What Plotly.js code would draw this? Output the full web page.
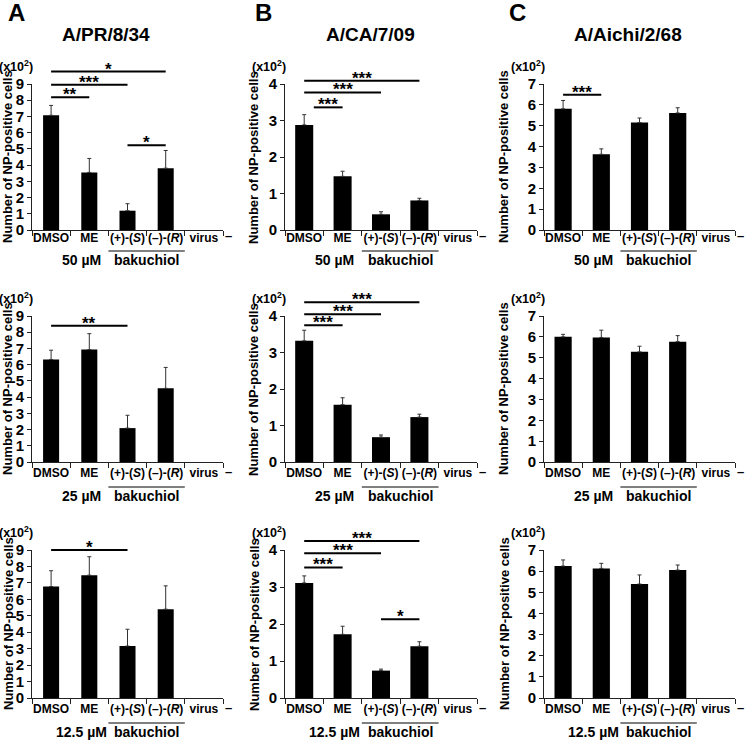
<!DOCTYPE html>
<html><head><meta charset="utf-8">
<script src="https://cdn.plot.ly/plotly-3.0.1.min.js"></script>
<style>html,body{margin:0;padding:0;background:#fff}</style>
</head><body><div id="chart" style="width:745px;height:740px"></div>
<script>
// ---------- data ----------
const categories = ['DMSO', 'ME', '(+)-(<i>S</i>)', '(–)-(<i>R</i>)', 'virus'];
const strains = ['A/PR/8/34', 'A/CA/7/09', 'A/Aichi/2/68'];
const panelLetters = ['A', 'B', 'C'];
const concentrations = ['50 µM', '25 µM', '12.5 µM'];
const yMaxByStrain = [9, 4, 7];
const groupLabel = 'bakuchiol';
const unitLabel = '(x10<sup>2</sup>)';
const yTitle = 'Number of NP-positive cells';

// A/PR/8/34
const pr50 = [7.07, 3.55, 1.19, 3.81, null];
const pr50Err = [0.61, 0.86, 0.43, 1.09, 0];
const pr25 = [6.32, 6.93, 2.09, 4.54, null];
const pr25Err = [0.57, 0.98, 0.79, 1.29, 0];
const pr12 = [6.78, 7.47, 3.16, 5.40, null];
const pr12Err = [0.96, 1.12, 1.02, 1.42, 0];
// A/CA/7/09
const ca50 = [2.88, 1.47, 0.43, 0.81, null];
const ca50Err = [0.28, 0.14, 0.07, 0.06, 0];
const ca25 = [3.32, 1.57, 0.68, 1.23, null];
const ca25Err = [0.29, 0.19, 0.06, 0.08, 0];
const ca12 = [3.11, 1.72, 0.74, 1.40, null];
const ca12Err = [0.19, 0.22, 0.04, 0.12, 0];
// A/Aichi/2/68
const ai50 = [5.81, 3.63, 5.15, 5.61, null];
const ai50Err = [0.40, 0.26, 0.22, 0.25, 0];
const ai25 = [6.00, 5.97, 5.28, 5.77, null];
const ai25Err = [0.12, 0.35, 0.27, 0.29, 0];
const ai12 = [6.24, 6.13, 5.39, 6.05, null];
const ai12Err = [0.29, 0.24, 0.43, 0.24, 0];

// significance brackets: [from category, to category, level, stars]
const pr50Sig = [[0, 3, 9.77, '*'], [0, 2, 8.95, '***'], [0, 1, 8.18, '**'], [2, 3, 5.23, '*']];
const pr25Sig = [[0, 2, 8.4, '**']];
const pr12Sig = [[0, 2, 9.0, '*']];
const ca50Sig = [[0, 3, 4.09, '***'], [0, 2, 3.77, '***'], [0.25, 1, 3.36, '***']];
const ca25Sig = [[0, 3, 4.38, '***'], [0, 2, 4.05, '***'], [0, 1, 3.75, '***']];
const ca12Sig = [[0, 3, 4.24, '***'], [0, 2, 3.91, '***'], [0, 1, 3.53, '***'], [2, 3, 2.13, '*']];
const ai50Sig = [[0, 1, 6.48, '***']];
const ai25Sig = [];
const ai12Sig = [];

// ---------- assembly ----------
const values = [[pr50, pr25, pr12], [ca50, ca25, ca12], [ai50, ai25, ai12]];
const errors = [[pr50Err, pr25Err, pr12Err], [ca50Err, ca25Err, ca12Err], [ai50Err, ai25Err, ai12Err]];
const sigs = [[pr50Sig, pr25Sig, pr12Sig], [ca50Sig, ca25Sig, ca12Sig], [ai50Sig, ai25Sig, ai12Sig]];

// ---------- layout geometry (pixels) ----------
const W = 745, H = 740;
const F = 'Arial, "Liberation Sans", Helvetica, sans-serif';
const colX = [[32, 223], [285, 477], [544, 735]];
const rowY = [[84, 230], [316, 462], [550, 698]];
const barWidths = [0.42, 0.47, 0.45];
const yTitleX = [8, 254, 504];
const titleX = [106, 370, 628];
const letterX = [16, 263, 517];

const traces = [];
const layout = {
  width: W, height: H, autosize: false,
  margin: {l: 0, r: 0, t: 0, b: 0},
  paper_bgcolor: '#fff', plot_bgcolor: '#fff',
  showlegend: false,
  font: {family: F, color: '#000'},
  annotations: [], shapes: []
};

const bold = (size) => ({family: F, size: size, color: '#000', weight: 'bold'});

for (let c = 0; c < 3; c++) {
  layout.annotations.push({xref: 'paper', yref: 'paper', x: titleX[c] / W, y: 1 - 35 / H,
    text: strains[c], showarrow: false, xanchor: 'center', yanchor: 'middle', font: bold(19)});
  layout.annotations.push({xref: 'paper', yref: 'paper', x: letterX[c] / W, y: 1 - 12 / H,
    text: panelLetters[c], showarrow: false, xanchor: 'center', yanchor: 'middle', font: bold(24)});
  for (let r = 0; r < 3; r++) {
    const k = r * 3 + c;
    const id = k === 0 ? '' : String(k + 1);
    const yMax = yMaxByStrain[c];
    const err = errors[c][r];
    traces.push({
      type: 'bar', x: categories, y: values[c][r],
      xaxis: 'x' + id, yaxis: 'y' + id,
      width: barWidths[c],
      marker: {color: '#000', line: {width: 0}},
      error_y: {type: 'data', symmetric: false, array: err, arrayminus: err.map(() => 0),
        color: '#333', thickness: 1, width: 2},
      hoverinfo: 'skip', showlegend: false
    });
    layout['xaxis' + id] = {
      domain: [colX[c][0] / W, colX[c][1] / W], anchor: 'y' + id,
      type: 'category', categoryorder: 'array', categoryarray: categories,
      range: [-0.5, 4.5], fixedrange: true,
      showline: true, linecolor: '#222', linewidth: 1,
      ticks: 'outside', tickson: 'boundaries', ticklen: 5, tickcolor: '#222', tickwidth: 1,
      ticklabelstandoff: r === 0 ? -3 : 0,
      showgrid: false, zeroline: false, tickangle: 0,
      tickfont: bold(12)
    };
    layout['yaxis' + id] = {
      domain: [1 - rowY[r][1] / H, 1 - rowY[r][0] / H], anchor: 'x' + id,
      range: [0, yMax], tick0: 0, dtick: 1, fixedrange: true,
      showline: true, linecolor: '#222', linewidth: 1,
      ticks: 'outside', ticklen: 4, tickcolor: '#222', tickwidth: 1,
      showgrid: false, zeroline: false,
      tickfont: bold(15)
    };
    const yd = 'y' + id + ' domain';
    // unit label
    layout.annotations.push({xref: 'paper', yref: 'paper', x: (colX[c][0] + 3) / W, y: 1 - rowY[r][0] / H,
      yshift: 18, text: unitLabel, showarrow: false, xanchor: 'right', yanchor: 'middle', font: bold(12.5)});
    // y title
    layout.annotations.push({xref: 'paper', yref: 'paper', x: yTitleX[c] / W,
      y: 1 - (rowY[r][0] + rowY[r][1]) / 2 / H, text: yTitle, textangle: -90, showarrow: false,
      xanchor: 'center', yanchor: 'middle', font: bold(13)});
    // concentration + group labels
    const extra = r === 0 ? 30 : 34;
    const over = r === 0 ? 21 : 25;
    const lab = r === 0 ? 11 : 14;
    layout.annotations.push({xref: 'x' + id, yref: yd, x: 0.8, y: 0, yshift: -extra,
      text: concentrations[r], showarrow: false, xanchor: 'center', yanchor: 'middle', font: bold(14)});
    layout.annotations.push({xref: 'x' + id, yref: yd, x: 2.5, y: 0, yshift: -extra,
      text: groupLabel, showarrow: false, xanchor: 'center', yanchor: 'middle', font: bold(14)});
    layout.annotations.push({xref: 'x' + id, yref: yd, x: 4.5, xshift: 5, y: 0, yshift: -lab + 5,
      text: '–', showarrow: false, xanchor: 'center', yanchor: 'middle', font: bold(13)});
    layout.shapes.push({type: 'line', xref: 'x' + id, yref: yd, x0: 1.5, x1: 3.5,
      ysizemode: 'pixel', yanchor: 0, y0: -over, y1: -over, line: {color: '#000', width: 1}});
    // significance brackets
    sigs[c][r].forEach(s => {
      const yy = s[2] / yMax;
      layout.shapes.push({type: 'line', xref: 'x' + id, yref: yd, x0: s[0], x1: s[1], y0: yy, y1: yy,
        line: {color: '#000', width: 2}});
      layout.annotations.push({xref: 'x' + id, yref: yd, x: (s[0] + s[1]) / 2, y: yy, yshift: -9,
        text: s[3], showarrow: false, xanchor: 'center', yanchor: 'bottom', font: bold(17)});
    });
  }
}

Plotly.newPlot('chart', traces, layout, {staticPlot: true, displayModeBar: false});
</script>
</body></html>
